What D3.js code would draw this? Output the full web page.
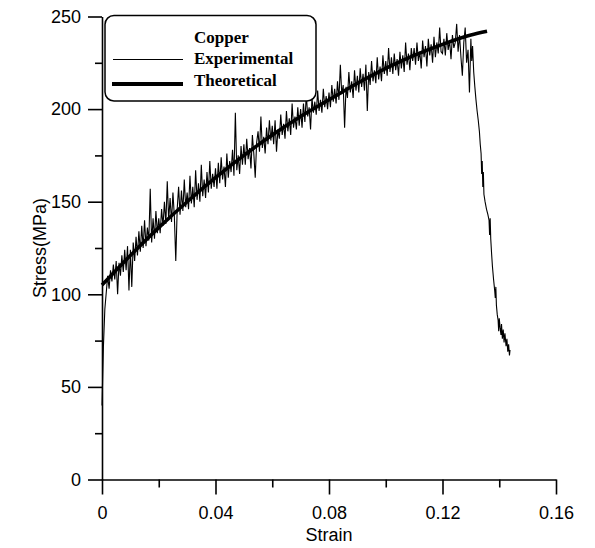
<!DOCTYPE html>
<html>
<head>
<meta charset="utf-8">
<script src="https://cdn.jsdelivr.net/npm/d3@7"></script>
<style>
  body { margin: 0; background: #fff; }
</style>
</head>
<body>
<div id="chart"></div>
<script>
// chart values
var xTicks = [0, 0.04, 0.08, 0.12, 0.16];
var xMinor = [0.02, 0.06, 0.10, 0.14];
var yTicks = [0, 50, 100, 150, 200, 250];
var yMinor = [25, 75, 125, 175, 225];

var theoStrain = [0, 0.01, 0.02, 0.03, 0.04, 0.05, 0.06, 0.07, 0.08, 0.09, 0.10, 0.11, 0.12, 0.13, 0.1357];
var theoStress = [105, 121, 136, 150, 163, 175, 186, 196, 205, 214, 222, 229, 235, 240, 242];

// experimental record, one reading every 0.0005 strain from 0 to 0.1295
var expStep = 0.0005;
var expStress = [
  40, 72, 92, 101, 110, 103, 113, 107, 116, 108, 118, 100, 117, 110, 121, 112, 124, 113, 126, 102,
  124, 104, 128, 118, 131, 121, 134, 123, 137, 125, 140, 126, 136, 129, 157, 128, 141, 130, 145, 133,
  141, 133, 146, 137, 150, 138, 161, 140, 152, 139, 155, 142, 118, 146, 158, 143, 156, 145, 162, 147,
  155, 146, 164, 149, 158, 147, 167, 151, 160, 150, 170, 153, 162, 152, 166, 155, 172, 157, 165, 158,
  168, 157, 171, 160, 174, 162, 169, 158, 176, 163, 172, 166, 178, 164, 198, 167, 175, 165, 180, 170,
  181, 170, 184, 173, 179, 168, 186, 176, 163, 182, 188, 177, 196, 179, 185, 176, 190, 181, 194, 183,
  191, 181, 194, 177, 189, 184, 197, 186, 192, 184, 199, 188, 195, 186, 203, 190, 196, 189, 201, 191,
  200, 190, 203, 193, 208, 196, 201, 189, 206, 198, 204, 197, 210, 199, 205, 198, 211, 201, 207, 200,
  209, 201, 213, 204, 211, 203, 215, 205, 224, 208, 213, 190, 212, 206, 220, 209, 215, 206, 221, 210,
  218, 209, 222, 212, 219, 210, 224, 199, 220, 213, 226, 215, 221, 214, 228, 216, 223, 215, 229, 219,
  226, 218, 233, 220, 228, 219, 230, 221, 227, 218, 231, 222, 229, 220, 236, 224, 230, 221, 233, 226,
  233, 224, 236, 226, 231, 222, 237, 228, 234, 223, 238, 229, 235, 225, 239, 228, 236, 230, 244, 231,
  230, 238, 229, 241, 232, 237, 227, 240, 233, 236, 246, 231, 240, 228, 218, 236, 244, 225, 232, 209
];

// the drop after necking
var dropStrain = [0.1300, 0.1303, 0.1306, 0.1310, 0.1314, 0.1318, 0.1322, 0.1326, 0.1330, 0.1333,
  0.1336, 0.1338, 0.1340, 0.1342, 0.1344, 0.1346, 0.1350, 0.1355, 0.1360, 0.1364,
  0.1366, 0.1368, 0.1370, 0.1373, 0.1376, 0.1380, 0.1384, 0.1386, 0.1388, 0.1390,
  0.1393, 0.1396, 0.1398, 0.1400, 0.1403, 0.1406, 0.1408, 0.1411, 0.1414, 0.1417,
  0.1420, 0.1424, 0.1427, 0.1430, 0.1433, 0.1436, 0.1438];
var dropStress = [238, 226, 234, 220, 212, 205, 199, 194, 188, 181,
  176, 165, 172, 158, 166, 154, 150, 146, 143, 140,
  132, 141, 130, 122, 115, 108, 102, 98, 104, 94,
  89, 86, 80, 87, 82, 78, 84, 76, 81, 74,
  79, 72, 76, 69, 73, 67, 70];

var svgWidth = 595;
var svgHeight = 548;
var margin = { top: 16.5, right: 39, bottom: 68.5, left: 102 };
var width = svgWidth - margin.left - margin.right;
var height = svgHeight - margin.top - margin.bottom;

var svg = d3.select("#chart")
  .append("svg")
  .attr("width", svgWidth)
  .attr("height", svgHeight)
  .style("background", "#fff");

var chartGroup = svg.append("g")
  .attr("transform", "translate(" + margin.left + "," + margin.top + ")");

var xScale = d3.scaleLinear().domain([0, 0.16]).range([0, width]);
var yScale = d3.scaleLinear().domain([0, 250]).range([height, 0]);

var labelFont = "'Liberation Sans', Arial, sans-serif";

// y axis: major ticks with labels, minor ticks without
var leftAxis = d3.axisLeft(yScale).tickValues(yTicks).tickSize(14).tickSizeOuter(0).tickPadding(7)
  .tickFormat(d3.format("d"));
chartGroup.append("g").call(leftAxis);
chartGroup.append("g")
  .call(d3.axisLeft(yScale).tickValues(yMinor).tickSize(7).tickSizeOuter(0).tickFormat(""))
  .select(".domain").remove();

// x axis
var bottomAxis = d3.axisBottom(xScale).tickValues(xTicks).tickSize(15).tickSizeOuter(0).tickPadding(12)
  .tickFormat(function(d) { return d === 0 ? "0" : d3.format(".2f")(d); });
chartGroup.append("g")
  .attr("transform", "translate(0," + height + ")")
  .call(bottomAxis);
chartGroup.append("g")
  .attr("transform", "translate(0," + height + ")")
  .call(d3.axisBottom(xScale).tickValues(xMinor).tickSize(8).tickSizeOuter(0).tickFormat(""))
  .select(".domain").remove();

chartGroup.selectAll(".domain, .tick line")
  .attr("stroke", "#000")
  .attr("stroke-width", 1.6);
chartGroup.selectAll(".tick text")
  .attr("fill", "#000")
  .style("font-family", labelFont)
  .style("font-size", "18px");

// experimental curve
var expData = expStress.map(function(s, i) { return [i * expStep, s]; })
  .concat(dropStrain.map(function(e, i) { return [e, dropStress[i]]; }));

var line = d3.line()
  .x(function(d) { return xScale(d[0]); })
  .y(function(d) { return yScale(d[1]); });

chartGroup.append("path")
  .datum(expData)
  .attr("fill", "none")
  .attr("stroke", "#000")
  .attr("stroke-width", 1.1)
  .attr("d", line);

// theoretical curve
var theoData = theoStrain.map(function(e, i) { return [e, theoStress[i]]; });
chartGroup.append("path")
  .datum(theoData)
  .attr("fill", "none")
  .attr("stroke", "#000")
  .attr("stroke-width", 3.5)
  .attr("d", line.curve(d3.curveMonotoneX));

// axis titles
svg.append("text")
  .attr("x", margin.left + xScale(0.08))
  .attr("y", 541)
  .attr("text-anchor", "middle")
  .style("font-family", labelFont)
  .style("font-size", "18px")
  .text("Strain");

svg.append("text")
  .attr("transform", "translate(46," + (margin.top + yScale(125)) + ") rotate(-90)")
  .attr("text-anchor", "middle")
  .style("font-family", labelFont)
  .style("font-size", "18px")
  .text("Stress(MPa)");

// legend
var legend = svg.append("g");
legend.append("rect")
  .attr("x", 105).attr("y", 15.5)
  .attr("width", 211).attr("height", 85.5)
  .attr("rx", 9).attr("ry", 9)
  .attr("fill", "#fff")
  .attr("stroke", "#000")
  .attr("stroke-width", 1.5);

var legendFont = "'Liberation Serif', 'Times New Roman', serif";
legend.append("text").attr("x", 194).attr("y", 42.5).text("Copper");
legend.append("text").attr("x", 194).attr("y", 63.5).text("Experimental");
legend.append("text").attr("x", 194).attr("y", 86).text("Theoretical");
legend.selectAll("text")
  .style("font-family", legendFont)
  .style("font-weight", "bold")
  .style("font-size", "17px");

legend.append("line")
  .attr("x1", 113).attr("x2", 183).attr("y1", 59.5).attr("y2", 59.5)
  .attr("stroke", "#000").attr("stroke-width", 1.2);
legend.append("line")
  .attr("x1", 112).attr("x2", 183).attr("y1", 84).attr("y2", 84)
  .attr("stroke", "#000").attr("stroke-width", 4);
</script>
</body>
</html>
